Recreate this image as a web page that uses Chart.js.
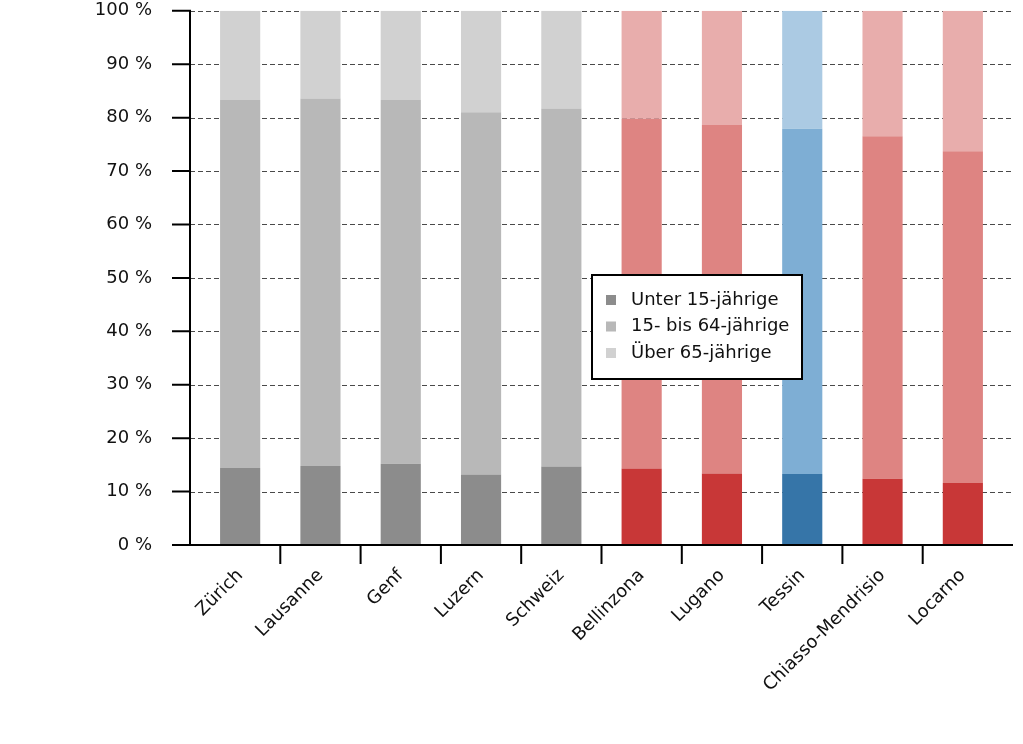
<!DOCTYPE html>
<html>
<head>
<meta charset="utf-8">
<script src="https://cdn.jsdelivr.net/npm/chart.js@4"></script>
<style>
  html, body { margin: 0; padding: 0; background: #fff; }
  #wrap { width: 1023px; height: 744px; }
</style>
</head>
<body>
<div id="wrap"><canvas id="chart"></canvas></div>
<script>
const categories = ["Zürich", "Lausanne", "Genf", "Luzern", "Schweiz", "Bellinzona", "Lugano", "Tessin", "Chiasso-Mendrisio", "Locarno"];
const seriesLabels = ["Unter 15-jährige", "15- bis 64-jährige", "Über 65-jährige"];
const under15 = [14.4, 14.8, 15.2, 13.2, 14.7, 14.3, 13.4, 13.3, 12.4, 11.6];
const age15to64 = [68.9, 68.8, 68.1, 67.8, 67.0, 65.5, 65.2, 64.6, 64.1, 62.1];
const over65 = [16.7, 16.4, 16.7, 19.0, 18.3, 20.2, 21.4, 22.1, 23.5, 26.3];
const groups = ["gray", "gray", "gray", "gray", "gray", "red", "red", "blue", "red", "red"];
const yTicks = [0, 10, 20, 30, 40, 50, 60, 70, 80, 90, 100];

// dark / mid / light shade per colour group
const palette = {
  gray: ["#8c8c8c", "#b8b8b8", "#d1d1d1"],
  red: ["#c83737", "#de8482", "#e8adac"],
  blue: ["#3675a8", "#7eaed4", "#abcae3"],
};

const FONT = "'DejaVu Sans', Verdana, sans-serif";

const axesPlugin = {
  id: "axesPlugin",
  beforeDatasetsDraw(chart) {
    const { ctx, chartArea, scales } = chart;
    const left = chartArea.left - 10, right = chartArea.right + 10;
    ctx.save();
    ctx.strokeStyle = "#4a4a4a";
    ctx.lineWidth = 1;
    ctx.setLineDash([5, 3]);
    yTicks.forEach(v => {
      if (v === 0) return;
      const y = Math.round(scales.y.getPixelForValue(v)) + 0.5;
      ctx.beginPath();
      ctx.moveTo(left, y);
      ctx.lineTo(right, y);
      ctx.stroke();
    });
    ctx.restore();
  },
  afterDatasetsDraw(chart) {
    const { ctx, chartArea, scales } = chart;
    const left = chartArea.left - 10, right = chartArea.right + 10;
    const bottom = scales.y.getPixelForValue(0);
    const top = scales.y.getPixelForValue(100);
    ctx.save();
    ctx.strokeStyle = "#000";
    ctx.lineWidth = 2;
    ctx.beginPath();
    ctx.moveTo(left, top - 1);
    ctx.lineTo(left, bottom);
    ctx.lineTo(right, bottom);
    yTicks.forEach(v => {
      const y = scales.y.getPixelForValue(v);
      ctx.moveTo(left - 18, y);
      ctx.lineTo(left, y);
    });
    for (let i = 0; i < categories.length - 1; i++) {
      const x = (scales.x.getPixelForValue(i) + scales.x.getPixelForValue(i + 1)) / 2;
      ctx.moveTo(x, bottom);
      ctx.lineTo(x, bottom + 19);
    }
    ctx.stroke();
    ctx.restore();
  },
  afterDraw(chart) {
    const { ctx } = chart;
    const bx = 592, by = 275, bw = 210, bh = 104;
    ctx.save();
    ctx.fillStyle = "#fff";
    ctx.fillRect(bx, by, bw, bh);
    ctx.strokeStyle = "#000";
    ctx.lineWidth = 2;
    ctx.strokeRect(bx, by, bw, bh);
    ctx.font = "18px " + FONT;
    ctx.textBaseline = "middle";
    chart.data.datasets.forEach((ds, i) => {
      const y = by + 25 + i * 26.5;
      ctx.fillStyle = palette.gray[i];
      ctx.fillRect(bx + 14, y - 5, 10, 10);
      ctx.fillStyle = "#111";
      ctx.fillText(ds.label, bx + 39, y);
    });
    ctx.restore();
  },
};

const seriesValues = [under15, age15to64, over65];

new Chart(document.getElementById("chart"), {
  type: "bar",
  data: {
    labels: categories,
    datasets: seriesValues.map((vals, i) => ({
      label: seriesLabels[i],
      data: vals,
      backgroundColor: groups.map(g => palette[g][i]),
      borderWidth: 0,
      barPercentage: 0.5,
      categoryPercentage: 1,
    })),
  },
  options: {
    responsive: true,
    maintainAspectRatio: false,
    animation: false,
    layout: { padding: { top: 0, right: 20, left: 0, bottom: 0 } },
    plugins: {
      legend: { display: false },
      tooltip: { enabled: false },
    },
    scales: {
      x: {
        stacked: true,
        grid: { display: false },
        border: { display: false },
        afterFit(scale) { scale.height = 199; },
        ticks: {
          color: "#111",
          font: { family: FONT, size: 18 },
          maxRotation: 45,
          minRotation: 45,
          padding: 12,
          autoSkip: false,
        },
      },
      y: {
        stacked: true,
        min: 0,
        max: 100,
        grid: { display: false, drawTicks: true, tickLength: 48 },
        border: { display: false },
        afterFit(scale) { scale.width = 200; },
        afterBuildTicks(scale) { scale.ticks = yTicks.map(v => ({ value: v })); },
        ticks: {
          color: "#111",
          font: { family: FONT, size: 18 },
          padding: 0,
          callback: v => v + " %",
        },
      },
    },
  },
  plugins: [axesPlugin],
});
</script>
</body>
</html>
